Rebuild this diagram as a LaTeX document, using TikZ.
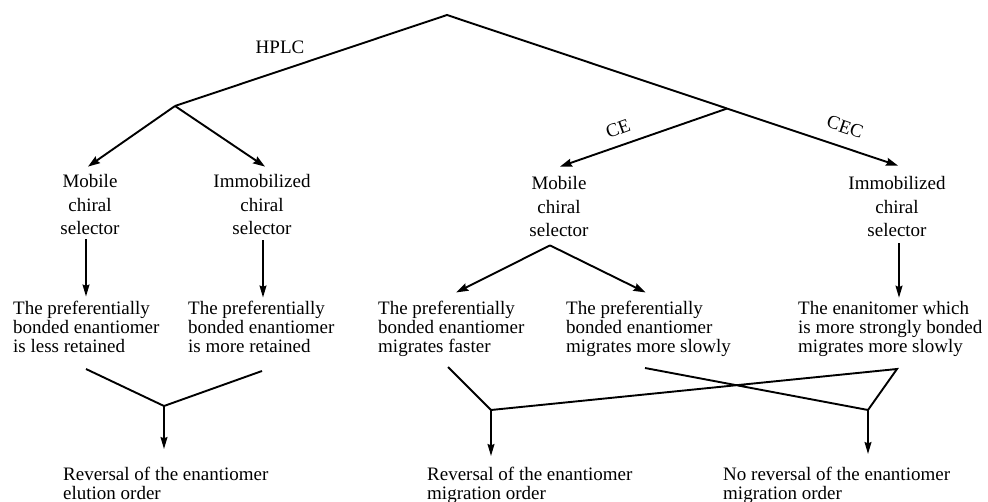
\documentclass[tikz,border=0pt]{standalone}
\usepackage{fontspec}
\setmainfont{Liberation Serif}
\usetikzlibrary{arrows.meta,calc}
\begin{document}
\begin{tikzpicture}[x=1pt,y=-1pt,
  txt/.style={inner sep=0pt, font=\fontsize{19}{19}\selectfont},
  sel/.style={inner sep=0pt, align=center, anchor=base, font=\fontsize{19}{23.5}\selectfont},
  blk/.style={inner sep=0pt, align=left, anchor=base west, font=\fontsize{19}{19}\selectfont},
  res/.style={inner sep=0pt, align=left, anchor=base west, font=\fontsize{19}{18.5}\selectfont},
  ln/.style={line width=1.9pt, line join=miter},
  arr/.style={ln, -{Stealth[length=12pt,width=8pt,inset=1.5pt]}},
  varr/.style={line width=1.4pt, -{Stealth[length=12pt,width=7pt,inset=1.5pt]}}
]
\useasboundingbox (0,0) rectangle (988,502);

% text nodes (base anchor = baseline of the last line)
\node[txt, anchor=base] (hplc) at (280,54) {HPLC};
\node[sel] (lmob) at (90,235) {Mobile\\chiral\\selector};
\node[sel] (limm) at (262,235) {Immobilized\\chiral\\selector};
\node[sel] (rmob) at (559,237) {Mobile\\chiral\\selector};
\node[sel] (rimm) at (897,237) {Immobilized\\chiral\\selector};
\node[blk] (b1) at (13,353) {The preferentially\\bonded enantiomer\\is less retained};
\node[blk] (b2) at (188,353) {The preferentially\\bonded enantiomer\\is more retained};
\node[blk] (b3) at (378,353) {The preferentially\\bonded enantiomer\\migrates faster};
\node[blk] (b4) at (566,353) {The preferentially\\bonded enantiomer\\migrates more slowly};
\node[blk] (b5) at (798,353) {The enanitomer which\\is more strongly bonded\\migrates more slowly};
\node[res] (r1) at (63,499) {Reversal of the enantiomer\\elution order};
\node[res] (r2) at (427,499) {Reversal of the enantiomer\\migration order};
\node[res] (r3) at (723,499) {No reversal of the enantiomer\\migration order};

% junctions and arrow tips
\coordinate (top) at (447,15);
\coordinate (hj) at (175,106);
\coordinate (lmobtip) at ([xshift=-2pt,yshift=8pt]lmob.north);
\coordinate (limmtip) at ([xshift=3pt,yshift=8pt]limm.north);
\coordinate (rmobtip) at ([xshift=1pt,yshift=10pt]rmob.north);
\coordinate (rimmtip) at ([xshift=1pt,yshift=11pt]rimm.north);
\coordinate (cj) at ($(top)!0.621!(rimmtip)$);

% top tree
\draw[arr] (hj) -- (top) -- (rimmtip);
\draw[arr] (hj) -- (lmobtip);
\draw[arr] (hj) -- (limmtip);
\draw[arr] (cj) -- (rmobtip);
\node[txt, rotate=19.8] (ce) at (618,129) {CE};
\node[txt, rotate=-18.6] (cec) at (845,127) {CEC};

% selector to outcome
\draw[varr, shorten <=4pt, shorten >=5pt] ([xshift=-4pt]lmob.south) -- ([xshift=-4pt]lmob.south |- b1.north);
\draw[varr, shorten <=5pt, shorten >=4pt] ([xshift=1pt]limm.south) -- ([xshift=1pt]limm.south |- b2.north);
\draw[varr, shorten <=6pt, shorten >=4pt] ([xshift=2pt]rimm.south) -- ([xshift=2pt]rimm.south |- b5.north);
\coordinate (ms) at ([xshift=-9pt,yshift=-8pt]rmob.south);
\draw[arr] (ms) -- ([xshift=5pt,yshift=9pt]b3.north);
\draw[arr] (ms) -- ([xshift=-3pt,yshift=9pt]b4.north);

% bottom merges
\coordinate (p1) at (86,369);
\coordinate (p2) at (262,371);
\coordinate (j1) at (164,406);
\coordinate (p3) at (448,367);
\coordinate (j2) at (491,410);
\coordinate (x3) at (897,369);
\coordinate (p4) at (645,368);
\coordinate (j3) at (868,410);
\draw[ln] (p1) -- (j1) -- (p2);
\draw[ln] (p3) -- (j2) -- (x3) -- (j3) -- (p4);
\draw[varr, shorten >=18pt] (j1) -- (j1 |- r1.north);
\draw[varr, shorten >=11pt] (j2) -- (j2 |- r2.north);
\draw[varr, shorten >=13pt] (j3) -- (j3 |- r3.north);
\end{tikzpicture}
\end{document}
